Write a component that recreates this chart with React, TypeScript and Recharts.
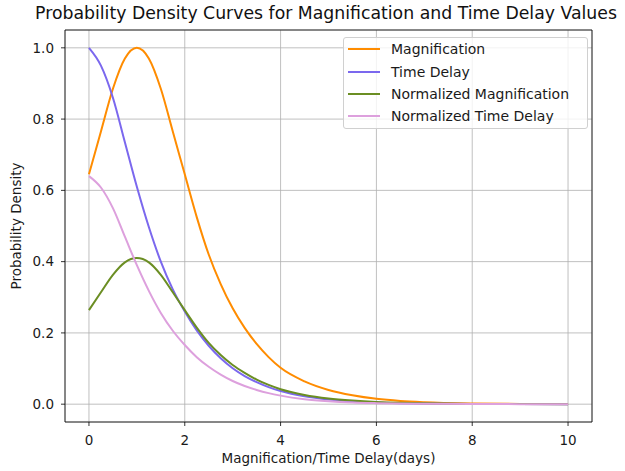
import React from "react";
import {
  LineChart,
  Line,
  XAxis,
  YAxis,
  CartesianGrid,
  ReferenceArea,
} from "recharts";

const xValues = [0, 0.25, 0.5, 0.75, 1, 1.25, 1.5, 1.75, 2, 2.25, 2.5, 2.75, 3, 3.25, 3.5, 3.75, 4, 4.5, 5, 5.5, 6, 6.5, 7, 8, 9, 10];
const magnification = [0.645, 0.765, 0.885, 0.97, 1.0, 0.97, 0.885, 0.765, 0.645, 0.525, 0.42, 0.337, 0.269, 0.214, 0.169, 0.132, 0.102, 0.064, 0.04, 0.025, 0.015, 0.009, 0.0055, 0.002, 0.0007, 0.0002];
const timeDelay = [1.0, 0.95, 0.86, 0.735, 0.61, 0.497, 0.4, 0.322, 0.26, 0.207, 0.164, 0.129, 0.101, 0.079, 0.062, 0.048, 0.037, 0.022, 0.013, 0.0075, 0.0045, 0.0027, 0.0016, 0.0006, 0.0002, 0.0001];
const normMagnification = [0.264, 0.314, 0.363, 0.398, 0.41, 0.398, 0.363, 0.314, 0.264, 0.215, 0.172, 0.138, 0.11, 0.088, 0.069, 0.054, 0.042, 0.026, 0.016, 0.01, 0.006, 0.0037, 0.0023, 0.0008, 0.0003, 0.0001];
const normTimeDelay = [0.64, 0.608, 0.55, 0.47, 0.39, 0.318, 0.256, 0.206, 0.166, 0.132, 0.105, 0.083, 0.065, 0.051, 0.04, 0.031, 0.024, 0.014, 0.0083, 0.0048, 0.0029, 0.0017, 0.001, 0.0004, 0.0001, 0.0001];

const xTicks = [0, 2, 4, 6, 8, 10];
const yTicks = [0, 0.2, 0.4, 0.6, 0.8, 1.0];

const series = [
  { key: "mag", name: "Magnification", color: "#ff8c00" },
  { key: "td", name: "Time Delay", color: "#7b68ee" },
  { key: "nmag", name: "Normalized Magnification", color: "#6b8e23" },
  { key: "ntd", name: "Normalized Time Delay", color: "#dda0dd" },
];

const data = xValues.map((x, i) => ({
  x,
  mag: magnification[i],
  td: timeDelay[i],
  nmag: normMagnification[i],
  ntd: normTimeDelay[i],
}));

const FONT = "'DejaVu Sans', sans-serif";
const tickStyle = { fontSize: 13.5, fill: "#1a1a1a", fontFamily: FONT };

export default function App() {
  return (
    <div
      style={{
        position: "absolute",
        left: 0,
        top: 0,
        width: 625,
        height: 471,
        background: "#fff",
        fontFamily: FONT,
        overflow: "hidden",
      }}
    >
      <div
        style={{
          position: "absolute",
          left: 0,
          width: 652,
          top: 5,
          textAlign: "center",
          fontSize: 17.3,
          lineHeight: "17px",
          color: "#111",
          whiteSpace: "nowrap",
        }}
      >
        Probability Density Curves for Magnification and Time Delay Values
      </div>
      <LineChart
        width={625}
        height={471}
        data={data}
        margin={{ top: 30, right: 33, bottom: 0, left: 0 }}
      >
        <CartesianGrid stroke="#b0b0b0" strokeWidth={0.8} />
        <XAxis
          type="number"
          dataKey="x"
          domain={[-0.5, 10.5]}
          ticks={xTicks}
          height={49}
          axisLine={false}
          tickLine={{ stroke: "#000", strokeWidth: 0.8 }}
          tickSize={4}
          tickMargin={9}
          tick={tickStyle}
          label={{
            value: "Magnification/Time Delay(days)",
            position: "insideBottom",
            offset: 8,
            style: { fontSize: 13.5, fill: "#1a1a1a", fontFamily: FONT },
          }}
        />
        <YAxis
          type="number"
          domain={[-0.05, 1.05]}
          ticks={yTicks}
          width={65}
          axisLine={false}
          tickLine={{ stroke: "#000", strokeWidth: 0.8 }}
          tickSize={4}
          tickMargin={7}
          tick={tickStyle}
          tickFormatter={(v: number) => v.toFixed(1)}
          label={{
            content: (props: any) => {
              const vb = props.viewBox || { y: 30, height: 392 };
              const cy = vb.y + vb.height / 2;
              return (
                <text
                  x={21}
                  y={cy}
                  transform={`rotate(-90 21 ${cy})`}
                  textAnchor="middle"
                  style={{ fontSize: 13.5, fill: "#1a1a1a", fontFamily: FONT }}
                >
                  Probability Density
                </text>
              );
            },
          }}
        />
        <ReferenceArea
          x1={-0.5}
          x2={10.5}
          y1={-0.05}
          y2={1.05}
          fill="none"
          stroke="#000"
          strokeWidth={0.8}
          fillOpacity={0}
          strokeOpacity={1}
        />
        {series.map((s) => (
          <Line
            key={s.key}
            type="monotone"
            dataKey={s.key}
            name={s.name}
            stroke={s.color}
            strokeWidth={2}
            dot={false}
            activeDot={false}
            isAnimationActive={false}
          />
        ))}
      </LineChart>
      <div
        style={{
          position: "absolute",
          left: 343,
          top: 37,
          width: 245,
          height: 92,
          border: "1px solid #d0d0d0",
          borderRadius: 3,
          background: "rgba(255,255,255,0.8)",
          boxSizing: "border-box",
        }}
      >
        {series.map((s) => (
          <div
            key={s.key}
            style={{
              display: "flex",
              alignItems: "center",
              height: 22.4,
              fontSize: 14,
              color: "#1a1a1a",
              whiteSpace: "nowrap",
            }}
          >
            <span
              style={{
                display: "inline-block",
                width: 32,
                height: 2,
                marginLeft: 4,
                marginRight: 11,
                background: s.color,
              }}
            />
            {s.name}
          </div>
        ))}
      </div>
    </div>
  );
}
